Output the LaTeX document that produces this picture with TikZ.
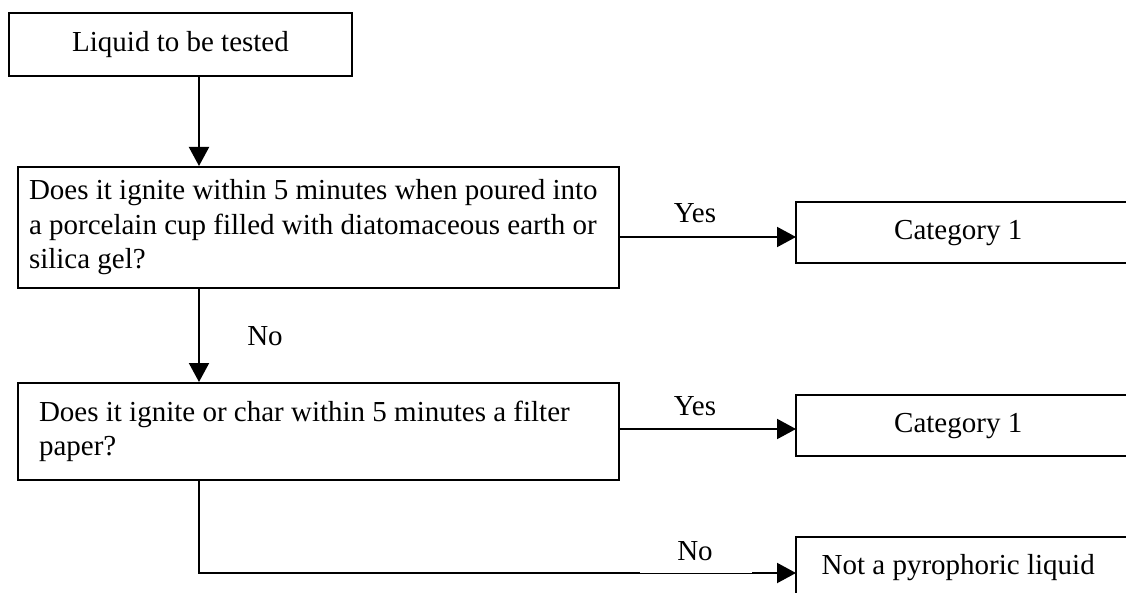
\documentclass[tikz,border=0pt]{standalone}
\usepackage{fontspec}
\setmainfont{Liberation Serif}
\usetikzlibrary{arrows.meta}

\newcommand{\chartfont}{\fontsize{29}{34.5}\selectfont}
% left-aligned lines in a fixed-width slot, never rewrapped
\newcommand{\textlines}[2]{\makebox[#1][l]{\begin{tabular}{@{}l@{}}#2\end{tabular}}}

\tikzset{
  box/.style={draw, line width=2pt, rectangle, inner ysep=0pt,
              anchor=north west, font=\chartfont},
  openbox/.style={rectangle, inner sep=0pt, anchor=north west,
                  minimum width=324pt, minimum height=61pt, font=\chartfont},
  boxline/.style={line width=2pt},
  link/.style={line width=2pt, -{Triangle[length=19pt,width=20pt]}},
  lbl/.style={anchor=base, inner sep=0pt, font=\chartfont},
}

\begin{document}
\begin{tikzpicture}[x=1pt,y=-1pt]
\useasboundingbox (0,0) rectangle (1126,593);
\clip (0,0) rectangle (1126,593);

% process boxes
\node[box, minimum width=343pt, minimum height=63pt, inner xsep=0pt]
  (start) at (8,12) {Liquid to be tested};
\node[box, inner xsep=11pt, minimum height=121pt]
  (q1) at (17,166)
  {\textlines{579pt}{Does it ignite within 5 minutes when poured into\\
   a porcelain cup filled with diatomaceous earth or\\
   silica gel?}};
\node[box, inner xsep=21pt, minimum height=97pt]
  (q2) at (17,382)
  {\textlines{559pt}{Does it ignite or char within 5 minutes a filter\\
   paper?}};

% result boxes, running off the right edge
\node[openbox] (c1) at (796,202) {Category 1};
\node[openbox] (c2) at (796,395) {Category 1};
\node[openbox] (np) at (796,537) {Not a pyrophoric liquid};
\foreach \b in {c1,c2,np}
  \draw[boxline] ([xshift=340pt]\b.north west) -- (\b.north west)
                 -- (\b.south west) -- ++(340,0);

% connector rails
\coordinate (ax) at (199,0);
\coordinate (r1) at (0,237);
\coordinate (r2) at (0,429);
\coordinate (r3) at (0,573);

\draw[link] (start.south -| ax) -- (q1.north -| ax);
\draw[link] (q1.south -| ax) -- (q2.north -| ax);
\draw[link] (q1.east |- r1) -- (c1.west |- r1);
\draw[link] (q2.east |- r2) -- (c2.west |- r2);
\draw[link] (q2.south -| ax) |- (np.west |- r3);

% thinner stretch of the bottom rail under its label
\coordinate (g1) at (640,573);
\coordinate (g2) at (752,573);
\draw[white, line width=2.4pt] (g1) -- (g2);
\draw[line width=0.8pt] (g1) -- (g2);

% branch labels
\node[lbl] (yes1) at (695,223) {Yes};
\node[lbl] (yes2) at (695,415) {Yes};
\node[lbl] (no1)  at (265,345) {No};
\node[lbl] (no2)  at (695,560) {No};
\end{tikzpicture}
\end{document}
